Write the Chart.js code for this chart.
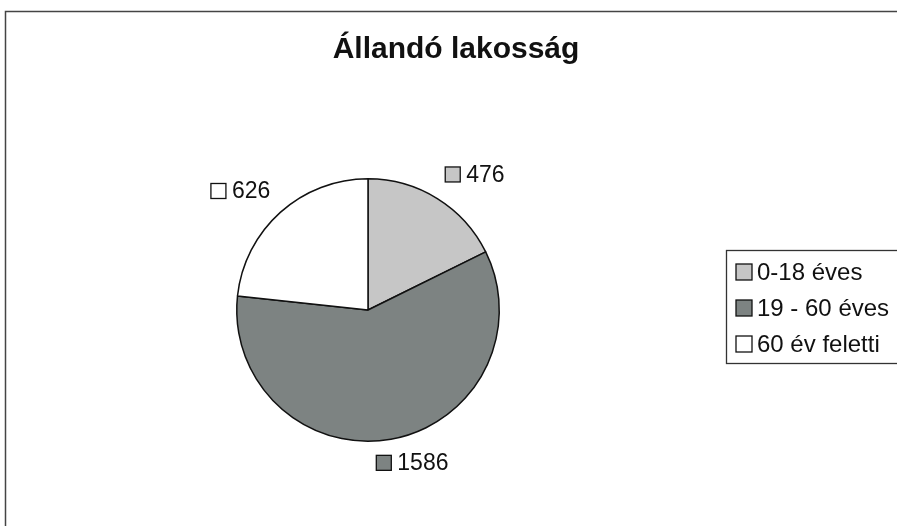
<!DOCTYPE html>
<html>
<head>
<meta charset="utf-8">
<script src="https://cdn.jsdelivr.net/npm/chart.js@4"></script>
<style>
html,body{margin:0;padding:0;background:#fff;}
#wrap{width:897px;height:526px;position:relative;}
canvas{display:block;}
</style>
</head>
<body>
<div id="wrap"><canvas id="c" width="897" height="526"></canvas></div>
<script>
const chartTitle = "Állandó lakosság";
const categories = ["0-18 éves", "19 - 60 éves", "60 év feletti"];
const values = [476, 1586, 626];
const sliceColors = ["#c6c6c6", "#7d8382", "#ffffff"];

const FONT = "'Liberation Sans', Arial, sans-serif";

const decorPlugin = {
  id: 'decor',
  beforeDraw(chart) {
    const ctx = chart.ctx;
    ctx.save();
    ctx.fillStyle = '#fff';
    ctx.fillRect(0, 0, chart.width, chart.height);
    ctx.strokeStyle = '#444';
    ctx.lineWidth = 1.5;
    ctx.strokeRect(5.5, 11.5, chart.width + 10, chart.height + 10);
    ctx.restore();
  },
  afterDraw(chart) {
    const ctx = chart.ctx;
    const meta = chart.getDatasetMeta(0);
    const ds = chart.data.datasets[0];
    ctx.save();
    // title
    ctx.fillStyle = '#111';
    ctx.font = "bold 30px " + FONT;
    ctx.textAlign = 'center';
    ctx.textBaseline = 'middle';
    ctx.fillText(chartTitle, 456, 50);

    // data labels
    ctx.font = "23px " + FONT;
    ctx.textAlign = 'left';
    meta.data.forEach((arc, i) => {
      const p = arc.getProps(['x', 'y', 'startAngle', 'endAngle', 'outerRadius'], true);
      const mid = (p.startAngle + p.endAngle) / 2;
      const cos = Math.cos(mid), sin = Math.sin(mid);
      const d = p.outerRadius + 15;
      const ax = p.x + d * cos, ay = p.y + d * sin;
      const txt = String(ds.data[i]);
      const sq = 15, gap = 6;
      const w = sq + gap + ctx.measureText(txt).width;
      const h = 22;
      const kx = Math.max(-1, Math.min(1, cos * 3));
      const cx = ax + (w / 2) * kx, cy = ay + (h / 2) * sin - 2;
      const left = cx - w / 2;
      ctx.fillStyle = ds.backgroundColor[i];
      ctx.fillRect(left, cy - sq / 2, sq, sq);
      ctx.strokeStyle = '#111';
      ctx.lineWidth = 1.3;
      ctx.strokeRect(left, cy - sq / 2, sq, sq);
      ctx.fillStyle = '#111';
      ctx.fillText(txt, left + sq + gap, cy + 1);
    });

    // legend
    const lx = 726, ly = 250, lw = 200, lh = 113;
    ctx.strokeStyle = '#333';
    ctx.lineWidth = 1.3;
    ctx.strokeRect(lx + 0.5, ly + 0.5, lw, lh);
    ctx.font = "24px " + FONT;
    chart.data.labels.forEach((lab, i) => {
      const y = ly + 22 + i * 36;
      ctx.fillStyle = ds.backgroundColor[i];
      ctx.fillRect(736, y - 8, 16, 16);
      ctx.strokeStyle = '#111';
      ctx.strokeRect(736, y - 8, 16, 16);
      ctx.fillStyle = '#111';
      ctx.fillText(lab, 757, y + 1);
    });
    ctx.restore();
  }
};

new Chart(document.getElementById('c'), {
  type: 'pie',
  data: {
    labels: categories,
    datasets: [{
      data: values,
      backgroundColor: sliceColors,
      borderColor: '#111',
      borderWidth: 1.5
    }]
  },
  options: {
    responsive: false,
    animation: false,
    layout: { padding: { left: 236, right: 397, top: 178, bottom: 84 } },
    plugins: {
      legend: { display: false },
      tooltip: { enabled: false },
      title: { display: false }
    }
  },
  plugins: [decorPlugin]
});
</script>
</body>
</html>
